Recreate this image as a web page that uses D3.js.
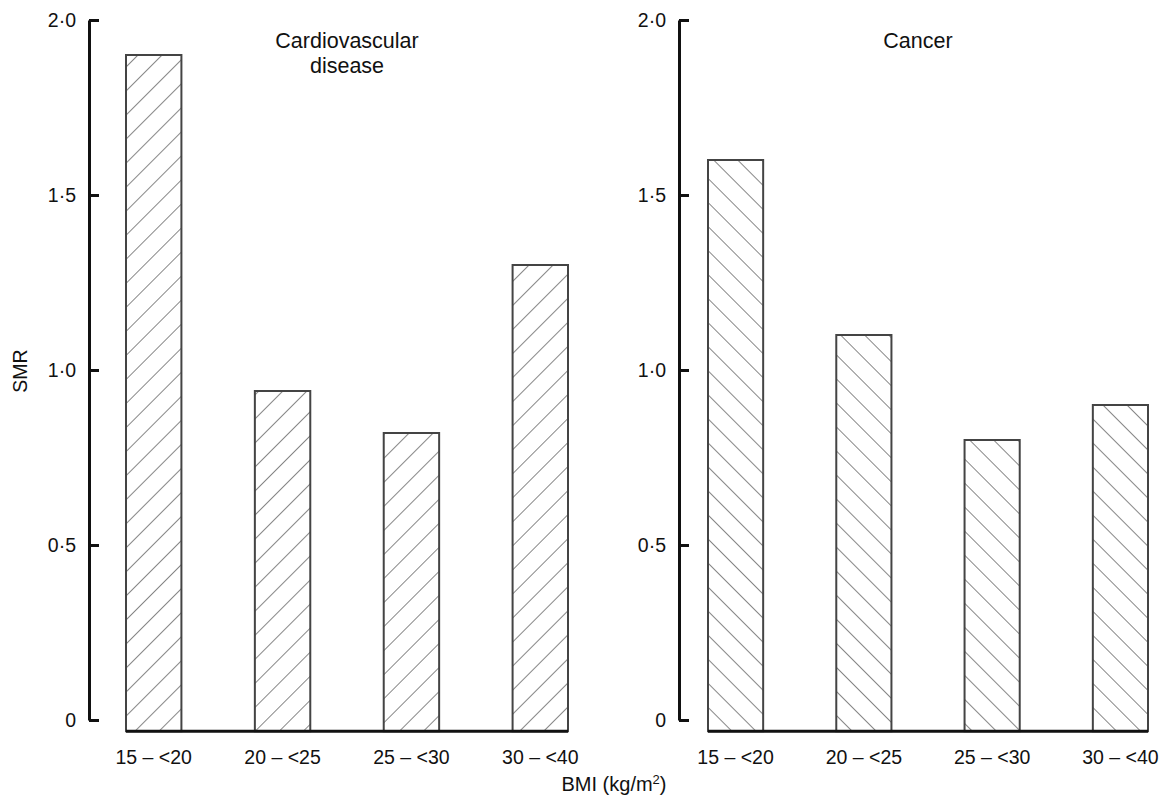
<!DOCTYPE html>
<html>
<head>
<meta charset="utf-8">
<script src="https://cdn.jsdelivr.net/npm/d3@7"></script>
<style>
  body { margin: 0; background: #fff; }
  text { font-family: "Liberation Sans", Arial, sans-serif; fill: #111; }
</style>
</head>
<body>
<div id="chart"></div>
<script>
// SMR by BMI group, two panels
const categories = ["15 – <20", "20 – <25", "25 – <30", "30 – <40"];
const cvdValues = [1.9, 0.94, 0.82, 1.3];
const cancerValues = [1.6, 1.1, 0.8, 0.9];
const yTicks = [0, 0.5, 1.0, 1.5, 2.0];

const width = 1166, height = 800;
const fs = 19.5;

const svg = d3.select("#chart")
    .append("svg")
    .attr("width", width)
    .attr("height", height);

// hatch patterns
const defs = svg.append("defs");
function hatch(id, angle) {
    const p = defs.append("pattern")
        .attr("id", id)
        .attr("patternUnits", "userSpaceOnUse")
        .attr("width", 17)
        .attr("height", 17)
        .attr("patternTransform", `rotate(${angle})`);
    p.append("rect").attr("width", 17).attr("height", 17).attr("fill", "#fff");
    p.append("line")
        .attr("x1", 0).attr("y1", 0).attr("x2", 0).attr("y2", 17)
        .attr("stroke", "#222").attr("stroke-width", 1.1);
}
hatch("fwd", 45);
hatch("back", -45);

const y = d3.scaleLinear().domain([0, 2]).range([720, 20]);

const panels = [
    { values: cvdValues, axisX: 89, left: 126, right: 568, title: ["Cardiovascular", "disease"], titleX: 347, pat: "fwd" },
    { values: cancerValues, axisX: 679, left: 708, right: 1148, title: ["Cancer"], titleX: 918, pat: "back" }
];

panels.forEach(pn => {
    const x = d3.scaleBand()
        .domain(categories)
        .range([pn.left, pn.right])
        .paddingInner(0.57)
        .paddingOuter(0);

    const g = svg.append("g");

    // bars (drawn down to slightly below zero, as in the original)
    g.selectAll(".bar")
        .data(pn.values)
        .enter()
        .append("rect")
        .attr("class", "bar")
        .attr("x", (d, i) => x(categories[i]))
        .attr("y", d => y(d))
        .attr("width", x.bandwidth())
        .attr("height", d => y(-0.032) - y(d))
        .attr("fill", `url(#${pn.pat})`)
        .attr("stroke", "#444")
        .attr("stroke-width", 2);

    // baseline
    g.append("line")
        .attr("x1", x(categories[0]))
        .attr("x2", x(categories[3]) + x.bandwidth())
        .attr("y1", y(-0.032))
        .attr("y2", y(-0.032))
        .attr("stroke", "#111")
        .attr("stroke-width", 3);

    // y axis
    const axis = g.append("g")
        .attr("transform", `translate(${pn.axisX},0)`)
        .call(d3.axisLeft(y)
            .tickValues(yTicks)
            .tickSizeInner(-10)
            .tickSizeOuter(0)
            .tickPadding(13)
            .tickFormat(d => d === 0 ? "0" : d3.format(".1f")(d).replace(".", "·")));
    axis.select(".domain").attr("stroke", "#111").attr("stroke-width", 3);
    axis.selectAll(".tick line").attr("stroke", "#111").attr("stroke-width", 3);
    axis.selectAll(".tick text")
        .attr("font-size", fs)
        .attr("font-family", "Liberation Sans, Arial, sans-serif")
        .attr("fill", "#111");

    // category labels
    g.selectAll(".cat")
        .data(categories)
        .enter()
        .append("text")
        .attr("class", "cat")
        .attr("x", d => x(d) + x.bandwidth() / 2)
        .attr("y", 764)
        .attr("text-anchor", "middle")
        .attr("font-size", fs)
        .text(d => d);

    // panel title
    g.selectAll(".title")
        .data(pn.title)
        .enter()
        .append("text")
        .attr("class", "title")
        .attr("x", pn.titleX)
        .attr("y", (d, i) => 48 + i * 25)
        .attr("text-anchor", "middle")
        .attr("font-size", 21.5)
        .text(d => d);
});

// axis titles
svg.append("text")
    .attr("transform", "translate(27,371) rotate(-90)")
    .attr("text-anchor", "middle")
    .attr("font-size", fs)
    .text("SMR");

const bmi = svg.append("text")
    .attr("x", 614)
    .attr("y", 791)
    .attr("text-anchor", "middle")
    .attr("font-size", 20)
    .text("BMI (kg/m");
bmi.append("tspan").attr("font-size", 13).attr("dy", -7).text("2");
bmi.append("tspan").attr("dy", 7).text(")");
</script>
</body>
</html>
